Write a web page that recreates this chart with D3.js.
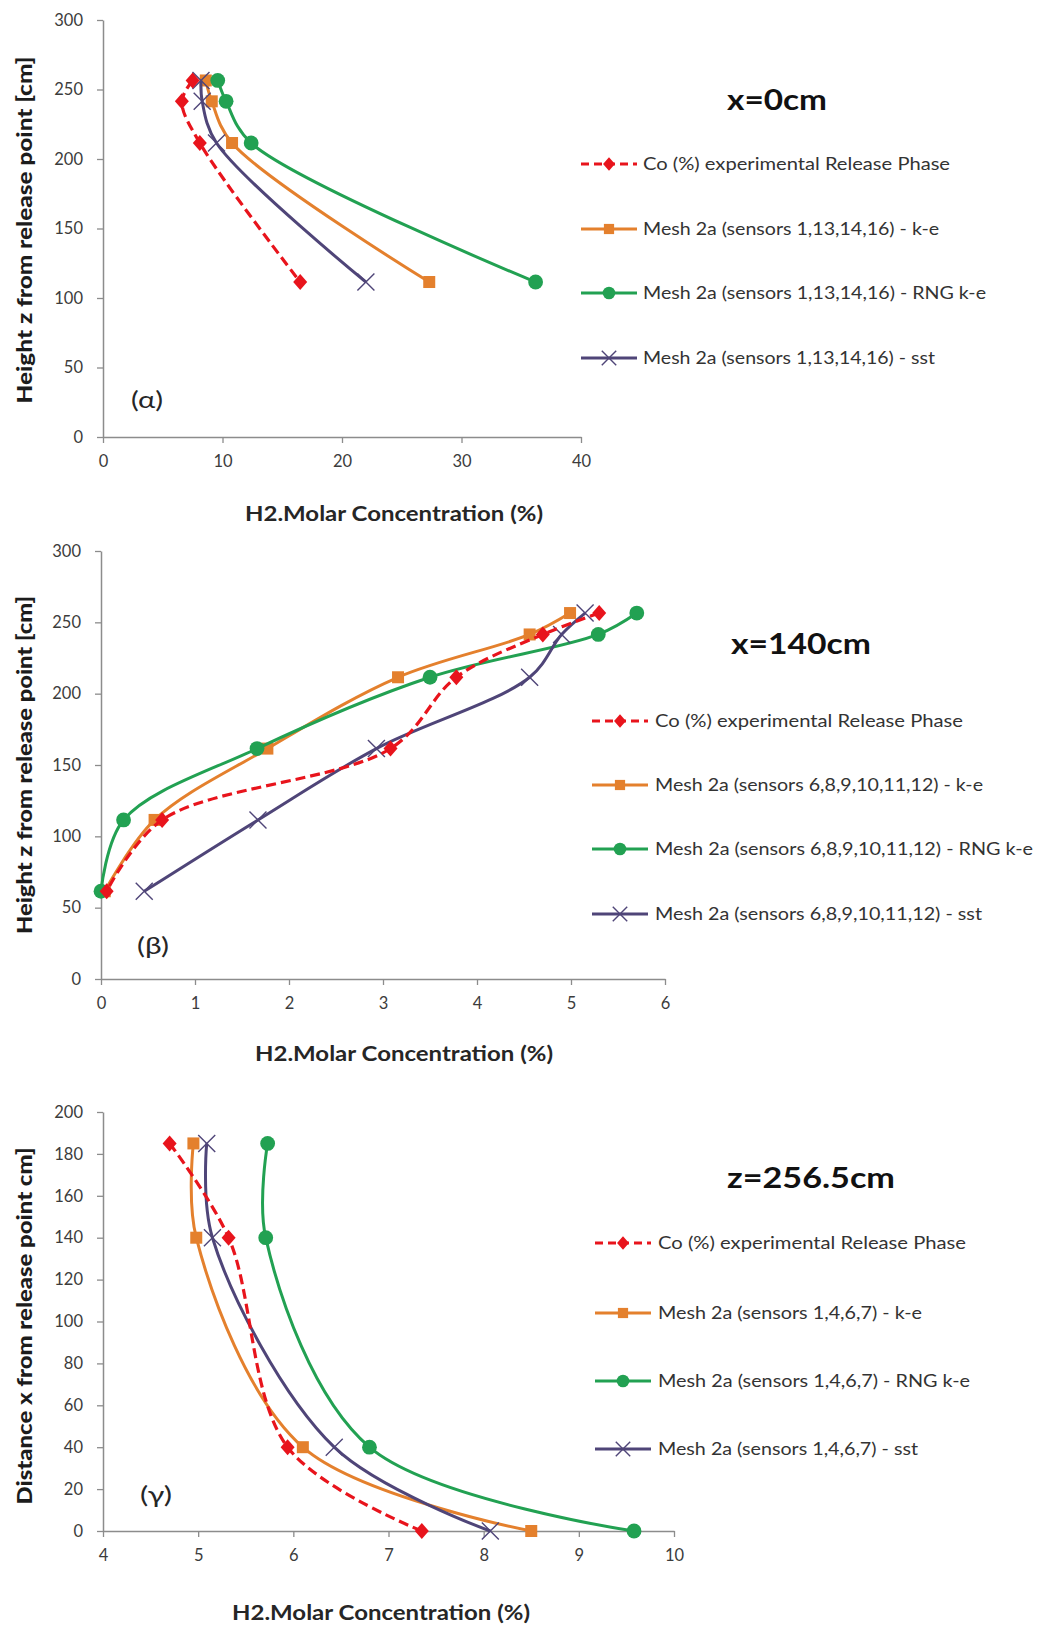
<!DOCTYPE html>
<html><head><meta charset="utf-8">
<script src="https://cdn.jsdelivr.net/npm/d3@7"></script>
<style>
body{margin:0;background:#fff;}
svg{display:block;}
text{font-family:Lato,"Open Sans",sans-serif;}
</style></head>
<body>
<svg id="chart" width="1040" height="1627"></svg>
<script>
// ---------- DATA ----------
const seriesNames = ["exp","ke","rng","sst"];

// Panel (α) x = 0 cm
const alphaHeights = [256.5, 241.5, 211.5, 111.5];
const alphaExp = [7.5, 6.6, 8.1, 16.5];
const alphaKe  = [8.6, 9.1, 10.8, 27.3];
const alphaRng = [9.6, 10.3, 12.4, 36.2];
const alphaSst = [8.2, 8.3, 9.5, 22.0];
const alphaXTicks = [0, 10, 20, 30, 40];
const alphaYTicks = [0, 50, 100, 150, 200, 250, 300];
const alphaLegend = ["Co (%)  experimental Release Phase",
  "Mesh 2a (sensors 1,13,14,16) - k-e",
  "Mesh 2a (sensors 1,13,14,16) - RNG  k-e",
  "Mesh 2a (sensors 1,13,14,16) - sst"];

// Panel (β) x = 140 cm
const betaHeights = [256.5, 241.5, 211.5, 161.5, 111.5, 61.5];
const betaExp = [5.30, 4.70, 3.78, 3.08, 0.65, 0.06];
const betaKe  = [4.99, 4.56, 3.16, 1.77, 0.57, 0.04];
const betaRng = [5.70, 5.29, 3.50, 1.66, 0.24, 0.00];
const betaSst = [5.15, 4.90, 4.56, 2.93, 1.67, 0.46];
const betaXTicks = [0, 1, 2, 3, 4, 5, 6];
const betaYTicks = [0, 50, 100, 150, 200, 250, 300];
const betaLegend = ["Co (%)  experimental Release Phase",
  "Mesh 2a (sensors 6,8,9,10,11,12) - k-e",
  "Mesh 2a (sensors 6,8,9,10,11,12) - RNG  k-e",
  "Mesh 2a (sensors 6,8,9,10,11,12) - sst"];

// Panel (γ) z = 256.5 cm
const gammaDistances = [185, 140, 40, 0];
const gammaExp = [4.70, 5.32, 5.94, 7.35];
const gammaKe  = [4.95, 4.98, 6.10, 8.50];
const gammaRng = [5.73, 5.71, 6.80, 9.58];
const gammaSst = [5.09, 5.15, 6.43, 8.07];
const gammaXTicks = [4, 5, 6, 7, 8, 9, 10];
const gammaYTicks = [0, 20, 40, 60, 80, 100, 120, 140, 160, 180, 200];
const gammaLegend = ["Co (%)  experimental Release Phase",
  "Mesh 2a (sensors 1,4,6,7) - k-e",
  "Mesh 2a (sensors 1,4,6,7) - RNG  k-e",
  "Mesh 2a (sensors 1,4,6,7) - sst"];

// ---------- STYLE ----------
const colors = {exp:"#e8141c", ke:"#e4802d", rng:"#22a152", sst:"#4f4578"};
const svg = d3.select("#chart");

function marker(g, type, x, y, s){
  s = s || 1;
  const c = colors[type];
  if(type==="exp"){
    const w = 7*s, h = 8*s;
    g.append("path").attr("d",`M0,${-h}L${w},0L0,${h}L${-w},0Z`).attr("transform",`translate(${x},${y})`).attr("fill",c);
  } else if(type==="ke"){
    const a = 12*s;
    g.append("rect").attr("x",x-a/2).attr("y",y-a/2).attr("width",a).attr("height",a).attr("fill",c);
  } else if(type==="rng"){
    g.append("circle").attr("cx",x).attr("cy",y).attr("r",7.4*s).attr("fill",c);
  } else {
    const a = 8.5*s;
    g.append("path").attr("d",`M${-a},${-a}L${a},${a}M${-a},${a}L${a},${-a}`).attr("transform",`translate(${x},${y})`)
      .attr("fill","none").attr("stroke",c).attr("stroke-width",1.4);
  }
}

function panel(cfg){
  const x = d3.scaleLinear().domain(cfg.xDomain).range([cfg.left, cfg.right]);
  const y = d3.scaleLinear().domain(cfg.yDomain).range([cfg.bottom, cfg.top]);
  const g = svg.append("g");

  const xa = g.append("g").attr("transform",`translate(0,${cfg.bottom})`)
    .call(d3.axisBottom(x).tickValues(cfg.xTicks).tickFormat(d3.format("~g")).tickSize(6).tickSizeOuter(0).tickPadding(12));
  const ya = g.append("g").attr("transform",`translate(${cfg.left},0)`)
    .call(d3.axisLeft(y).tickValues(cfg.yTicks).tickFormat(d3.format("~g")).tickSize(6).tickSizeOuter(0).tickPadding(14));
  [xa, ya].forEach(a=>{
    a.select(".domain").attr("stroke","#8c8c8c").attr("stroke-width",1.5);
    a.selectAll("line").attr("stroke","#8c8c8c").attr("stroke-width",1.3);
    a.selectAll("text").attr("fill","#3c3c3c").attr("font-size",16.5).style("font-family","Lato,sans-serif");
  });

  // axis titles
  g.append("text").attr("x",cfg.xTitleX).attr("y",cfg.xTitleY).attr("text-anchor","middle")
    .attr("font-size",20).attr("font-weight","bold").attr("fill","#262626")
    .attr("textLength",298).attr("lengthAdjust","spacingAndGlyphs").text("H2.Molar Concentration (%)");
  g.append("text").attr("transform",`translate(${cfg.yTitleX},${cfg.yTitleY}) rotate(-90)`).attr("text-anchor","middle")
    .attr("font-size",21).attr("font-weight","900").attr("fill","#1c1c1c")
    .attr("textLength",cfg.yTitleLen).attr("lengthAdjust","spacingAndGlyphs").text(cfg.yTitle);

  // panel label
  g.append("text").attr("x",cfg.labelX).attr("y",cfg.labelY).attr("text-anchor","middle")
    .attr("font-size",23).attr("fill","#262626").attr("textLength",32).attr("lengthAdjust","spacingAndGlyphs").text(cfg.label);

  // title
  g.append("text").attr("x",cfg.titleX).attr("y",cfg.titleY).attr("text-anchor","middle")
    .attr("font-size",28).attr("font-weight","bold").attr("fill","#111")
    .attr("textLength",cfg.titleLen).attr("lengthAdjust","spacingAndGlyphs").text(cfg.title);

  const line = d3.line().x(d=>x(d[0])).y(d=>y(d[1])).curve(d3.curveCatmullRom.alpha(0.5));
  const order = ["ke","rng","sst","exp"];
  order.forEach(k=>{
    const vals = cfg.series[k];
    const pts = vals.map((v,i)=>[v, cfg.yVals[i]]);
    g.append("path").attr("d", line(pts)).attr("fill","none").attr("stroke",colors[k])
      .attr("stroke-width", k==="exp"?3.2:3)
      .attr("stroke-dasharray", k==="exp"?"10,5":null);
    pts.forEach(p=>marker(g, k, x(p[0]), y(p[1])));
  });

  // legend
  seriesNames.forEach((k,i)=>{
    const ly = cfg.legendYs[i];
    g.append("line").attr("x1",cfg.legendX).attr("x2",cfg.legendX+56).attr("y1",ly).attr("y2",ly)
      .attr("stroke",colors[k]).attr("stroke-width",k==="exp"?3:3).attr("stroke-dasharray",k==="exp"?"8,5":null);
    marker(g, k, cfg.legendX+28, ly, 0.85);
    g.append("text").attr("x",cfg.legendTextX).attr("y",ly+6).attr("font-size",17).attr("fill","#333")
      .attr("textLength",cfg.legendLens[i]).attr("lengthAdjust","spacingAndGlyphs")
      .text(cfg.legend[i]);
  });
}

panel({
  xDomain:[0,40], yDomain:[0,300], left:103, right:581, top:20, bottom:437,
  xTicks:alphaXTicks, yTicks:alphaYTicks, yVals:alphaHeights,
  series:{exp:alphaExp, ke:alphaKe, rng:alphaRng, sst:alphaSst},
  xTitleX:394, xTitleY:521, yTitleX:32, yTitleY:230, yTitleLen:347, yTitle:"Height z from release point  [cm]",
  label:"(α)", labelX:147, labelY:408, title:"x=0cm", titleX:777, titleY:110, titleLen:100,
  legendX:581, legendTextX:643, legendYs:[164,229,293,358], legendLens:[307,296,343,292], legend:alphaLegend
});

panel({
  xDomain:[0,6], yDomain:[0,300], left:101, right:665, top:551, bottom:979,
  xTicks:betaXTicks, yTicks:betaYTicks, yVals:betaHeights,
  series:{exp:betaExp, ke:betaKe, rng:betaRng, sst:betaSst},
  xTitleX:404, xTitleY:1061, yTitleX:32, yTitleY:765, yTitleLen:338, yTitle:"Height z from release point  [cm]",
  label:"(β)", labelX:153, labelY:954, title:"x=140cm", titleX:801, titleY:654, titleLen:140,
  legendX:592, legendTextX:655, legendYs:[721,785,849,914], legendLens:[308,328,378,327], legend:betaLegend
});

panel({
  xDomain:[4,10], yDomain:[0,200], left:103, right:674, top:1112, bottom:1531,
  xTicks:gammaXTicks, yTicks:gammaYTicks, yVals:gammaDistances,
  series:{exp:gammaExp, ke:gammaKe, rng:gammaRng, sst:gammaSst},
  xTitleX:381, xTitleY:1620, yTitleX:32, yTitleY:1326, yTitleLen:357, yTitle:"Distance x from release point cm]",
  label:"(γ)", labelX:156, labelY:1503, title:"z=256.5cm", titleX:811, titleY:1188, titleLen:168,
  legendX:595, legendTextX:658, legendYs:[1243,1313,1381,1449], legendLens:[308,264,312,260], legend:gammaLegend
});
</script>
</body></html>
